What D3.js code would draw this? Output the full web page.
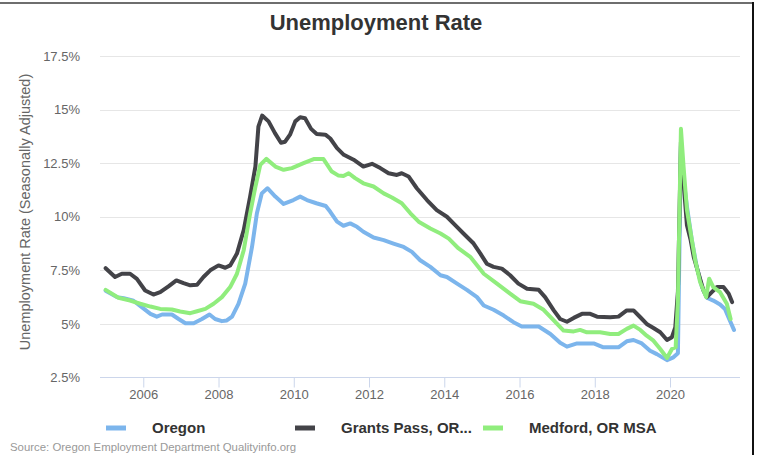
<!DOCTYPE html>
<html>
<head>
<meta charset="utf-8">
<script src="https://cdn.jsdelivr.net/npm/d3@7"></script>
<style>
  body { margin: 0; background: #fff; }
  svg { display: block; font-family: "Liberation Sans", Arial, sans-serif; }
  .yAxis path, .yAxis line { display: none; }
  .xAxis path { display: none; }
  .xAxis line { stroke: #ccd6eb; }
  .tickText { fill: #666; font-size: 13px; }
</style>
</head>
<body>
<div id="chart"></div>
<script>
// series names + colours (legend order)
let seriesNames = ["Oregon", "Grants Pass, OR...", "Medford, OR MSA"];
let seriesColors = ["#7cb5ec", "#434348", "#90ed7d"];

// tick values
let xTickYears = [2006, 2008, 2010, 2012, 2014, 2016, 2018, 2020];
let yTickValues = [2.5, 5, 7.5, 10, 12.5, 15, 17.5];

// [year, rate %]
let oregon = [
  [2005.0, 6.55], [2005.3, 6.25], [2005.48, 6.2], [2005.74, 6.08], [2005.96, 5.78],
  [2006.19, 5.47], [2006.36, 5.34], [2006.5, 5.44], [2006.76, 5.44], [2006.94, 5.23],
  [2007.12, 5.03], [2007.34, 5.03], [2007.56, 5.23], [2007.76, 5.44], [2007.91, 5.23],
  [2008.09, 5.13], [2008.22, 5.16], [2008.36, 5.34], [2008.53, 5.94], [2008.71, 6.88],
  [2008.89, 8.59], [2009.02, 10.16], [2009.15, 11.09], [2009.3, 11.33], [2009.51, 10.94],
  [2009.73, 10.6], [2009.99, 10.78], [2010.17, 10.94], [2010.35, 10.78], [2010.6, 10.63],
  [2010.85, 10.5], [2010.97, 10.23], [2011.15, 9.77], [2011.32, 9.58], [2011.5, 9.69],
  [2011.68, 9.53], [2011.85, 9.3], [2012.12, 9.03], [2012.39, 8.91], [2012.65, 8.75],
  [2012.92, 8.59], [2013.14, 8.36], [2013.36, 7.97], [2013.63, 7.66], [2013.9, 7.27],
  [2014.07, 7.19], [2014.34, 6.88], [2014.6, 6.59], [2014.87, 6.25], [2015.05, 5.86],
  [2015.31, 5.66], [2015.58, 5.39], [2015.84, 5.08], [2016.06, 4.88], [2016.51, 4.88],
  [2016.82, 4.53], [2017.08, 4.12], [2017.26, 3.94], [2017.53, 4.09], [2017.97, 4.09],
  [2018.23, 3.91], [2018.63, 3.91], [2018.85, 4.19], [2019.03, 4.25], [2019.25, 4.09],
  [2019.47, 3.75], [2019.65, 3.59], [2019.92, 3.31], [2020.09, 3.44], [2020.21, 3.63],
  [2020.29, 13.3], [2020.37, 11.6], [2020.45, 10.47], [2020.58, 8.91], [2020.71, 7.66],
  [2020.85, 6.72], [2020.98, 6.22], [2021.15, 6.09], [2021.33, 5.91], [2021.46, 5.7],
  [2021.59, 5.16], [2021.7, 4.72]
];

let grantsPass = [
  [2005.0, 7.6], [2005.25, 7.19], [2005.43, 7.34], [2005.65, 7.34], [2005.83, 7.1],
  [2006.05, 6.56], [2006.27, 6.37], [2006.45, 6.48], [2006.67, 6.75], [2006.88, 7.03],
  [2007.07, 6.9], [2007.25, 6.8], [2007.43, 6.83], [2007.6, 7.19], [2007.78, 7.5],
  [2008.0, 7.73], [2008.18, 7.62], [2008.31, 7.73], [2008.49, 8.28], [2008.67, 9.38],
  [2008.84, 10.94], [2008.98, 12.34], [2009.06, 14.2], [2009.16, 14.72], [2009.33, 14.45],
  [2009.5, 13.9], [2009.66, 13.45], [2009.77, 13.5], [2009.9, 13.83], [2010.04, 14.45],
  [2010.17, 14.64], [2010.3, 14.6], [2010.46, 14.1], [2010.61, 13.86], [2010.84, 13.83],
  [2010.97, 13.65], [2011.15, 13.2], [2011.33, 12.89], [2011.59, 12.66], [2011.85, 12.34],
  [2012.08, 12.47], [2012.3, 12.27], [2012.52, 12.03], [2012.74, 11.95], [2012.87, 12.03],
  [2013.05, 11.88], [2013.27, 11.33], [2013.54, 10.78], [2013.8, 10.31], [2014.07, 10.0],
  [2014.29, 9.61], [2014.51, 9.22], [2014.78, 8.75], [2014.96, 8.28], [2015.13, 7.81],
  [2015.31, 7.66], [2015.53, 7.58], [2015.75, 7.27], [2015.97, 6.88], [2016.2, 6.64],
  [2016.51, 6.59], [2016.68, 6.25], [2016.91, 5.63], [2017.08, 5.23], [2017.26, 5.1],
  [2017.44, 5.28], [2017.66, 5.47], [2017.88, 5.47], [2018.06, 5.34], [2018.41, 5.31],
  [2018.63, 5.34], [2018.85, 5.63], [2019.03, 5.63], [2019.21, 5.31], [2019.38, 5.0],
  [2019.56, 4.81], [2019.74, 4.61], [2019.92, 4.25], [2020.05, 4.38], [2020.14, 4.84],
  [2020.21, 6.5], [2020.29, 13.5], [2020.37, 11.4], [2020.45, 9.6], [2020.55, 8.9],
  [2020.63, 8.13], [2020.76, 7.34], [2020.89, 6.56], [2020.98, 6.25], [2021.11, 6.48],
  [2021.25, 6.72], [2021.42, 6.72], [2021.56, 6.41], [2021.65, 6.02]
];

let medford = [
  [2005.0, 6.59], [2005.34, 6.22], [2005.65, 6.09], [2005.92, 5.94], [2006.19, 5.81],
  [2006.45, 5.7], [2006.76, 5.67], [2006.98, 5.58], [2007.25, 5.5], [2007.43, 5.59],
  [2007.65, 5.7], [2007.87, 5.94], [2008.09, 6.25], [2008.31, 6.72], [2008.49, 7.34],
  [2008.67, 8.44], [2008.84, 10.16], [2008.98, 11.4], [2009.11, 12.42], [2009.27, 12.7],
  [2009.51, 12.34], [2009.73, 12.19], [2009.95, 12.27], [2010.26, 12.5], [2010.53, 12.69],
  [2010.79, 12.69], [2011.01, 12.11], [2011.19, 11.92], [2011.32, 11.9], [2011.46, 12.03],
  [2011.63, 11.8], [2011.85, 11.56], [2012.12, 11.41], [2012.39, 11.09], [2012.61, 10.9],
  [2012.87, 10.63], [2013.1, 10.16], [2013.32, 9.77], [2013.63, 9.45], [2013.9, 9.22],
  [2014.12, 8.98], [2014.38, 8.52], [2014.69, 8.13], [2015.05, 7.34], [2015.4, 6.88],
  [2015.75, 6.41], [2016.02, 6.06], [2016.37, 5.94], [2016.64, 5.66], [2016.91, 5.16],
  [2017.17, 4.69], [2017.44, 4.65], [2017.61, 4.72], [2017.79, 4.61], [2018.14, 4.61],
  [2018.41, 4.53], [2018.63, 4.53], [2018.85, 4.77], [2019.03, 4.92], [2019.21, 4.72],
  [2019.38, 4.45], [2019.56, 4.22], [2019.74, 3.83], [2019.92, 3.41], [2020.05, 3.83],
  [2020.15, 3.91], [2020.21, 6.1], [2020.29, 14.1], [2020.36, 12.34], [2020.45, 10.31],
  [2020.58, 8.91], [2020.67, 7.97], [2020.8, 6.95], [2020.96, 6.25], [2021.04, 7.11],
  [2021.15, 6.72], [2021.33, 6.48], [2021.51, 5.94], [2021.61, 5.23]
];

let allSeries = [oregon, grantsPass, medford];

// canvas
let svgWidth = 761;
let svgHeight = 455;
let plot = { left: 100, right: 740, top: 56, bottom: 377.5 };

let svg = d3.select("#chart")
    .append("svg")
    .attr("width", svgWidth)
    .attr("height", svgHeight);

svg.append("rect")
    .attr("width", svgWidth)
    .attr("height", svgHeight)
    .attr("fill", "#fff");

// frame lines (top + right)
svg.append("line")
    .attr("x1", 0).attr("x2", 754)
    .attr("y1", 3).attr("y2", 3)
    .attr("stroke", "#6e6e6e")
    .attr("stroke-width", 2);
svg.append("line")
    .attr("x1", 753).attr("x2", 753)
    .attr("y1", 2).attr("y2", svgHeight)
    .attr("stroke", "#111")
    .attr("stroke-width", 2);

// scales
let xScale = d3.scaleLinear()
    .domain([2004.85, 2021.86])
    .range([plot.left, plot.right]);

let yScale = d3.scaleLinear()
    .domain([2.5, 17.5])
    .range([plot.bottom, plot.top]);

// gridlines
svg.append("g")
    .selectAll("line")
    .data(yTickValues.filter(d => d > 2.5))
    .join("line")
    .attr("x1", plot.left)
    .attr("x2", plot.right)
    .attr("y1", d => Math.round(yScale(d)) + 0.5)
    .attr("y2", d => Math.round(yScale(d)) + 0.5)
    .attr("stroke", "#e6e6e6");

// x axis line
svg.append("line")
    .attr("x1", plot.left)
    .attr("x2", plot.right)
    .attr("y1", plot.bottom)
    .attr("y2", plot.bottom)
    .attr("stroke", "#ccd6eb");

// axes
let bottomAxis = d3.axisBottom(xScale)
    .tickValues(xTickYears)
    .tickFormat(d => d)
    .tickSizeInner(10)
    .tickSizeOuter(0)
    .tickPadding(2);

let leftAxis = d3.axisLeft(yScale)
    .tickValues(yTickValues)
    .tickFormat(d => d + "%")
    .tickSize(0)
    .tickPadding(20);

svg.append("g")
    .attr("class", "xAxis")
    .attr("transform", `translate(0, ${plot.bottom})`)
    .call(bottomAxis)
    .selectAll("text")
    .attr("class", "tickText");

svg.append("g")
    .attr("class", "yAxis")
    .attr("transform", `translate(${plot.left}, 0)`)
    .call(leftAxis)
    .selectAll("text")
    .attr("class", "tickText");

svg.selectAll(".xAxis .tick line").attr("stroke", "#ccd6eb");

// lines
let lineGen = d3.line()
    .x(d => xScale(d[0]))
    .y(d => yScale(d[1]));

svg.append("g")
    .selectAll("path")
    .data(allSeries)
    .join("path")
    .attr("d", lineGen)
    .attr("fill", "none")
    .attr("stroke", (d, i) => seriesColors[i])
    .attr("stroke-width", 4)
    .attr("stroke-linejoin", "round")
    .attr("stroke-linecap", "round");

// title
svg.append("text")
    .attr("x", 376)
    .attr("y", 30)
    .attr("text-anchor", "middle")
    .attr("font-size", 22)
    .attr("font-weight", "bold")
    .attr("fill", "#333")
    .text("Unemployment Rate");

// y axis label
svg.append("text")
    .attr("transform", "rotate(-90)")
    .attr("x", -212)
    .attr("y", 30)
    .attr("text-anchor", "middle")
    .attr("font-size", 14.5)
    .attr("fill", "#666")
    .text("Unemployment Rate (Seasonally Adjusted)");

// legend
let legendX = [106, 295, 483];
let legend = svg.append("g")
    .selectAll("g")
    .data(seriesNames)
    .join("g")
    .attr("transform", (d, i) => `translate(${legendX[i]}, 428)`);

legend.append("line")
    .attr("x1", 0).attr("x2", 20)
    .attr("y1", 0).attr("y2", 0)
    .attr("stroke", (d, i) => seriesColors[i])
    .attr("stroke-width", 5);

legend.append("text")
    .attr("x", 46)
    .attr("y", 5)
    .attr("font-size", 15)
    .attr("font-weight", "bold")
    .attr("fill", "#333")
    .text(d => d);

// source
svg.append("text")
    .attr("x", 10)
    .attr("y", 451)
    .attr("font-size", 11.4)
    .attr("fill", "#999")
    .text("Source: Oregon Employment Department Qualityinfo.org");
</script>
</body>
</html>
